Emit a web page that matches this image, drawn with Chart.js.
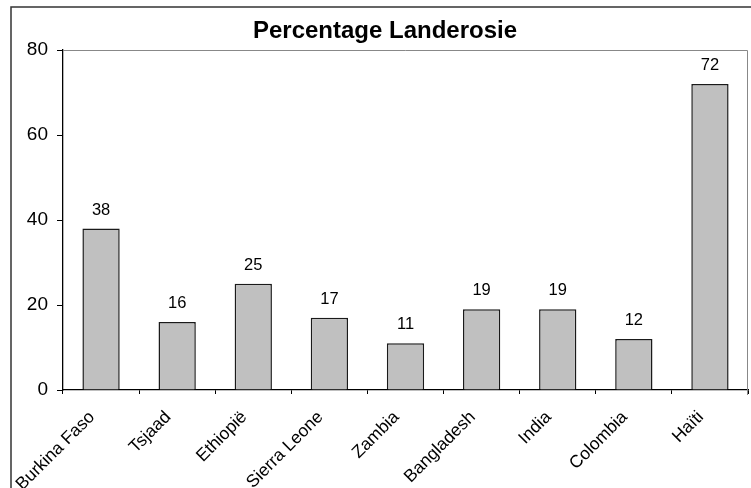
<!DOCTYPE html>
<html>
<head>
<meta charset="utf-8">
<script src="https://cdn.jsdelivr.net/npm/chart.js@4/dist/chart.umd.min.js"></script>
<style>
  html, body { margin: 0; padding: 0; background: #fff; }
  #wrap { width: 751px; height: 488px; position: relative; }
</style>
</head>
<body>
<div id="wrap"><canvas id="c" width="751" height="488"></canvas></div>
<script>
// Percentage landerosie per land
const countries = ['Burkina Faso', 'Tsjaad', 'Ethiopië', 'Sierra Leone', 'Zambia', 'Bangladesh', 'India', 'Colombia', 'Haïti'];
const erosionPct = [38, 16, 25, 17, 11, 19, 19, 12, 72];
const yTicks = [0, 20, 40, 60, 80];

const FONT = "'Liberation Sans', Arial, sans-serif";

// Outer frame, the grey top/right edge of the plot area and the value labels
const decorations = {
  id: 'decorations',
  beforeDraw(chart) {
    const ctx = chart.ctx;
    ctx.save();
    ctx.fillStyle = '#fff';
    ctx.fillRect(0, 0, chart.width, chart.height);
    ctx.strokeStyle = '#333';
    ctx.lineWidth = 1.5;
    ctx.strokeRect(11, 7, 800, 600);
    ctx.restore();
  },
  afterDatasetsDraw(chart) {
    const ctx = chart.ctx;
    const a = chart.chartArea;
    ctx.save();
    ctx.strokeStyle = '#888';
    ctx.lineWidth = 1;
    ctx.beginPath();
    ctx.moveTo(a.left, a.top + 0.5);
    ctx.lineTo(a.right - 0.5, a.top + 0.5);
    ctx.lineTo(a.right - 0.5, a.bottom + 5);
    ctx.stroke();

    ctx.fillStyle = '#000';
    ctx.font = '16.5px ' + FONT;
    ctx.textAlign = 'center';
    ctx.textBaseline = 'alphabetic';
    const meta = chart.getDatasetMeta(0);
    meta.data.forEach((bar, i) => {
      ctx.fillText(String(erosionPct[i]), bar.x, bar.y - 14);
    });
    ctx.restore();
  }
};

new Chart(document.getElementById('c'), {
  type: 'bar',
  data: {
    labels: countries,
    datasets: [{
      data: erosionPct,
      backgroundColor: '#c0c0c0',
      borderColor: '#1a1a1a',
      borderWidth: 1.5,
      categoryPercentage: 1,
      barPercentage: 0.49
    }]
  },
  options: {
    responsive: false,
    animation: false,
    layout: { padding: { left: 22, right: 3, top: 0, bottom: 0 } },
    plugins: {
      legend: { display: false },
      tooltip: { enabled: false },
      title: {
        display: true,
        text: 'Percentage Landerosie',
        color: '#000',
        font: { family: FONT, size: 24, weight: 'bold', lineHeight: 1.2 },
        padding: { top: 17, bottom: 4.2 }
      }
    },
    scales: {
      x: {
        afterFit(scale) { scale.height = 98; },
        grid: {
          display: true,
          offset: true,
          drawOnChartArea: false,
          drawTicks: true,
          tickLength: 4,
          color: '#000'
        },
        border: { display: true, color: '#000', width: 1.3 },
        ticks: {
          color: '#000',
          font: { family: FONT, size: 17.5 },
          minRotation: 45,
          maxRotation: 45,
          autoSkip: false,
          padding: 13,
          labelOffset: -9
        }
      },
      y: {
        min: 0,
        max: 80,
        afterFit(scale) { scale.width = 41; },
        afterBuildTicks(scale) { scale.ticks = yTicks.map(v => ({ value: v })); },
        grid: {
          display: true,
          drawOnChartArea: false,
          drawTicks: true,
          tickLength: 6,
          color: '#000'
        },
        border: { display: true, color: '#000', width: 1.3 },
        ticks: {
          color: '#000',
          font: { family: FONT, size: 19 },
          padding: 9
        }
      }
    }
  },
  plugins: [decorations]
});
</script>
</body>
</html>
